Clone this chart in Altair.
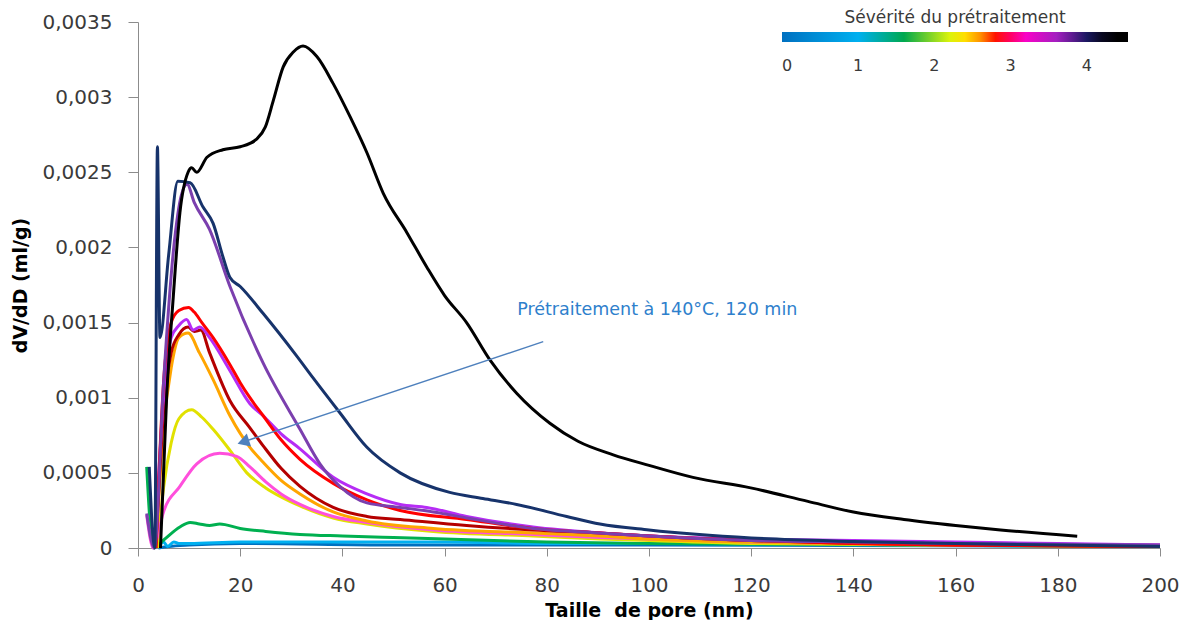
import altair as alt
import pandas as pd

# ---------------- data ----------------
series_names = ["blue", "lightblue", "green", "yellow", "pink", "orange",
                "darkred", "violet", "red", "purple", "navy", "black"]
series_colors = ["#0070c0", "#00b0f0", "#00b050", "#e1e100", "#ff4fdc", "#ffa500",
                 "#b40000", "#b62cf5", "#ff0000", "#7b3fae", "#17336b", "#000000"]

blue_x = [4, 6, 10, 20, 50, 100, 200]
blue_y = [0, 0.00001, 0.00002, 0.00003, 0.00002, 0.00002, 0.00001]

lightblue_x = [4, 5, 5.8, 7, 8, 10, 20, 40, 60, 80, 100, 150, 200]
lightblue_y = [0, 0.00004, 0.00001, 0.00004, 0.00003, 0.00003, 0.00004, 0.00004, 0.00004,
               0.00003, 0.00003, 0.00002, 0.00001]

green_x = [1.7, 3.0, 4.9, 8.2, 10.2, 12, 14, 16, 20, 25, 31.7, 40, 50, 60, 80, 100, 150, 200]
green_y = [0.00054, 0, 0.00005, 0.00014, 0.00017, 0.00016, 0.00015, 0.00016, 0.00013, 0.00011,
           0.00009, 0.00008, 0.00007, 0.00006, 0.00004, 0.00003, 0.00002, 0.00001]

yellow_x = [3.8, 5, 6.5, 8, 10.5, 12.5, 14.7, 18, 21.3, 25, 28, 31.7, 38.2, 44.8, 57.8, 77.3,
            90.4, 100, 120, 160, 200]
yellow_y = [0, 0.0004, 0.0007, 0.00086, 0.00092, 0.00087, 0.00079, 0.00065, 0.0005, 0.0004,
            0.00034, 0.00028, 0.0002, 0.00016, 0.00011, 0.00008, 0.00006, 0.00005, 0.00003,
            0.00002, 0.00001]

pink_x = [1.7, 3, 4, 4.9, 8.2, 11.5, 16, 19.3, 21.9, 25, 28, 31.7, 38.2, 44.8, 57.8, 77.3,
          90.4, 100, 120, 140, 170, 200]
pink_y = [0.00022, 0, 0.0001, 0.00023, 0.00041, 0.00056, 0.00063, 0.00061, 0.00054, 0.00044,
          0.00036, 0.00029, 0.00021, 0.00017, 0.00012, 0.00009, 0.00007, 0.00006, 0.00004,
          0.00003, 0.00002, 0.00002]

orange_x = [3.5, 5, 6.5, 8, 9.8, 12, 14.7, 18, 21.9, 24.5, 28, 31.7, 38.2, 44.8, 57.8, 77.3,
            90.4, 100, 120, 160, 200]
orange_y = [0, 0.0008, 0.0012, 0.0014, 0.00143, 0.0013, 0.00112, 0.00088, 0.00067, 0.00057,
            0.00045, 0.00036, 0.00024, 0.00018, 0.00013, 0.0001, 0.00008, 0.00006, 0.00004,
            0.00002, 0.00001]

darkred_x = [3.5, 5, 6.5, 8, 9.8, 11, 12.3, 14, 18, 21.9, 24.5, 28, 31.7, 38.2, 44.8, 51.3,
             64.3, 77.3, 90.4, 100, 120, 160, 200]
darkred_y = [0, 0.0009, 0.0013, 0.00142, 0.00147, 0.00144, 0.00145, 0.0013, 0.00098, 0.0008,
             0.00068, 0.00053, 0.00041, 0.00027, 0.00021, 0.00019, 0.00015, 0.00012, 0.0001,
             0.00008, 0.00005, 0.00002, 0.00001]

violet_x = [3.3, 5, 6.5, 8, 9.5, 10.8, 12.1, 14, 18, 21.9, 24.5, 28, 31.7, 38.2, 44.8, 51.3,
            56.5, 64.3, 77.3, 90.4, 100, 120, 140, 160, 180, 200]
violet_y = [0, 0.001, 0.0014, 0.00148, 0.00152, 0.00145, 0.00147, 0.0014, 0.00118, 0.00096,
            0.00088, 0.00076, 0.00066, 0.00047, 0.00036, 0.00029, 0.00027, 0.00021, 0.00014,
            0.0001, 0.00008, 0.00006, 0.00005, 0.00004, 0.00003, 0.00002]

red_x = [3.5, 5, 6.5, 8, 9.9, 11, 12.5, 14.7, 18, 20, 21.9, 24.5, 28, 31.7, 38.2, 44.8, 51.3,
         64.3, 77.3, 90.4, 100, 120, 140, 160, 200]
red_y = [0, 0.0011, 0.0015, 0.00158, 0.0016, 0.00157, 0.0015, 0.0014, 0.00122, 0.0011, 0.001,
         0.00088, 0.00072, 0.00059, 0.00043, 0.00032, 0.00025, 0.00019, 0.00013, 0.0001,
         0.00008, 0.00005, 0.00003, 0.00002, 0.00001]

purple_x = [1.7, 3.2, 5, 7, 8.5, 9.6, 11, 14, 18, 24.5, 31.7, 35.6, 39.5, 44.8, 51.3, 57.8,
            64.3, 77.3, 90.4, 100, 120, 140, 160, 200]
purple_y = [0.00023, 0, 0.0011, 0.002, 0.00235, 0.00242, 0.0023, 0.00212, 0.00174, 0.00123,
            0.00079, 0.00056, 0.00041, 0.0003, 0.00027, 0.00024, 0.0002, 0.00013, 0.0001,
            0.00008, 0.00005, 0.00004, 0.00003, 0.00002]

navy_x = [2.2, 3.3, 3.8, 4.3, 6.0, 7.8, 10.2, 12.7, 14.7, 16.6, 18, 20, 24.5, 31, 34.3, 39.5,
          44.8, 51.3, 61, 67.5, 74.1, 83.9, 90.4, 100, 120, 140, 160, 180, 200]
navy_y = [0.00054, 0.0, 0.00267, 0.0014, 0.00195, 0.00244, 0.00243, 0.00227, 0.00216, 0.00194,
          0.0018, 0.00174, 0.00156, 0.00128, 0.00113, 0.0009, 0.00067, 0.0005, 0.00037,
          0.00033, 0.00029, 0.00021, 0.00016, 0.00012, 0.000067, 0.000044, 0.00003, 0.00002,
          0.00001]

black_x = [4.4, 5.6, 6.9, 8.2, 9.8, 10.5, 11.5, 13.5, 16.6, 20, 23.2, 24.9, 26.5, 28.4, 30.4,
           32.3, 35, 38.2, 41.5, 44.8, 48, 52.6, 56.5, 60, 64.3, 68.9, 74.1, 80.6, 86.1, 93,
           100, 108.6, 119.9, 131.1, 140, 149.9, 160, 168.8, 183.8]
black_y = [0, 0.001, 0.00167, 0.00223, 0.0025, 0.00253, 0.0025, 0.0026, 0.00265, 0.00267,
           0.00272, 0.0028, 0.00298, 0.0032, 0.0033, 0.00334, 0.00327, 0.00309, 0.00287,
           0.00263, 0.00236, 0.0021, 0.00187, 0.00168, 0.0015, 0.00125, 0.00103, 0.00083,
           0.00071, 0.00062, 0.00055, 0.00047, 0.0004, 0.00031, 0.00024, 0.00019, 0.00015,
           0.00012, 0.000078]

series_x = [blue_x, lightblue_x, green_x, yellow_x, pink_x, orange_x, darkred_x, violet_x,
            red_x, purple_x, navy_x, black_x]
series_y = [blue_y, lightblue_y, green_y, yellow_y, pink_y, orange_y, darkred_y, violet_y,
            red_y, purple_y, navy_y, black_y]

x_ticks = [0, 20, 40, 60, 80, 100, 120, 140, 160, 180, 200]
y_ticks = [0, 0.0005, 0.001, 0.0015, 0.002, 0.0025, 0.003, 0.0035]

# colour bar (pretreatment severity)
bar_stops = [0, 1.0, 1.6, 2.3, 2.57, 2.83, 3.17, 3.62, 4.0, 4.3, 4.54]
bar_colors = ["#0070c0", "#00b0f0", "#00a84f", "#ffff00", "#ffa500", "#ff0000",
              "#ff00c8", "#a020c0", "#1a1860", "#000000", "#000000"]
bar_labels = [0, 1, 2, 3, 4]

# annotation
note_text = ["Prétraitement à 140°C, 120 min"]
note_x = [74.2]
note_y = [0.001584]
arrow_start_x = [79.3]
arrow_start_y = [0.001373]
arrow_end_x = [20.6]
arrow_end_y = [0.000706]

# ---------------- build ----------------
rows = []
for name, xs, ys in zip(series_names, series_x, series_y):
    for i, (a, b) in enumerate(zip(xs, ys)):
        rows.append({"serie": name, "x": a, "y": b, "i": i})
df = pd.DataFrame(rows)

FONT = "DejaVu Sans"
AX = "#8c8c8c"
LAB = "#3a3a3a"

x_enc = alt.X("x:Q", scale=alt.Scale(domain=[0, 200], nice=False, zero=False),
              axis=alt.Axis(values=x_ticks, title="Taille\u00a0 de pore (nm)", grid=False,
                            tickSize=8, labelPadding=19, labelFontSize=20, labelFont=FONT,
                            labelColor=LAB, labelFlush=False, labelOverlap=False,
                            titleFont=FONT, titleFontSize=19, titleFontWeight="bold",
                            titleColor="#000000", titleY=68, titleBaseline="alphabetic",
                            domainColor=AX, tickColor=AX))
y_enc = alt.Y("y:Q", scale=alt.Scale(domain=[0, 0.0035], nice=False),
              axis=alt.Axis(values=y_ticks, title="dV/dD (ml/g)", grid=False,
                            tickSize=10, labelPadding=16, labelFontSize=20, labelFont=FONT,
                            labelColor=LAB, labelOverlap=False,
                            labelExpr="replace(format(datum.value, '.4~f'), '.', ',')",
                            titleFont=FONT, titleFontSize=19, titleFontWeight="bold",
                            titleColor="#000000", titleX=-118, titleBaseline="middle",
                            domainColor=AX, tickColor=AX))

lines = alt.Chart(df).mark_line(interpolate="monotone", strokeWidth=3).encode(
    x=x_enc,
    y=y_enc,
    color=alt.Color("serie:N", scale=alt.Scale(domain=series_names, range=series_colors),
                    legend=None),
    order="i:Q",
)

arrow_df = pd.DataFrame({"x": arrow_start_x, "y": arrow_start_y,
                         "x2": arrow_end_x, "y2": arrow_end_y})
arrow = alt.Chart(arrow_df).mark_rule(color="#4f81bd", strokeWidth=1.5).encode(
    x="x:Q", y="y:Q", x2="x2:Q", y2="y2:Q")
head = alt.Chart(arrow_df).mark_point(shape="triangle-up", angle=252, filled=True, size=190,
                                      color="#4f81bd", opacity=1).encode(x="x2:Q", y="y2:Q")

note = alt.Chart(pd.DataFrame({"x": note_x, "y": note_y, "t": note_text})).mark_text(
    align="left", baseline="middle", font=FONT, fontSize=17.5, color="#2e80cc").encode(
    x="x:Q", y="y:Q", text="t:N")

sev_df = pd.DataFrame({"sev": [bar_stops[0], bar_stops[-1]]})
colorbar = alt.Chart(sev_df).mark_point(size=0, strokeWidth=0, opacity=1).encode(
    x=alt.value(0), y=alt.value(0),
    color=alt.Color("sev:Q",
                    scale=alt.Scale(domain=bar_stops, range=bar_colors, interpolate="rgb"),
                    legend=alt.Legend(title="Sévérité du prétraitement", orient="none",
                                      legendX=644, legendY=-12, direction="horizontal",
                                      gradientLength=346, gradientThickness=10,
                                      gradientStrokeWidth=0, gradientOpacity=1,
                                      values=bar_labels,
                                      titleAnchor="middle", titleFont=FONT, titleFontSize=17,
                                      titleFontWeight="normal", titleColor=LAB,
                                      titleLimit=500, titlePadding=5,
                                      labelFont=FONT, labelFontSize=16,
                                      labelColor=LAB, labelAlign="center", labelOffset=16,
                                      padding=0)),
)

chart = alt.layer(lines, arrow, head, note, colorbar).resolve_scale(
    color="independent"
).properties(
    width=1022, height=526,
    autosize=alt.AutoSizeParams(type="none"),
    padding={"left": 130, "top": 14, "right": 21, "bottom": 72},
).configure_view(stroke=None)

chart.save("out.html", embed_options={"renderer": "svg", "actions": False})
